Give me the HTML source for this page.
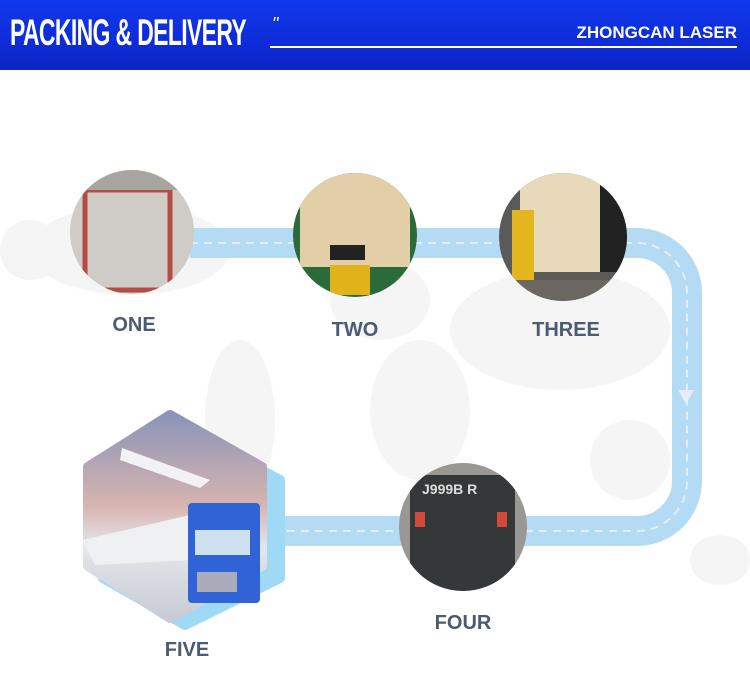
<!DOCTYPE html>
<html><head><meta charset="utf-8"><style>
body{margin:0;width:750px;height:695px;overflow:hidden;background:#fff;font-family:"Liberation Sans",sans-serif;position:relative}
.hdr{position:absolute;left:0;top:0;width:750px;height:70px;background:linear-gradient(#1038ee,#0c24c8)}
.t{position:absolute;left:10px;top:12px;color:#fff;font-size:37px;font-weight:bold;transform:scaleX(.62);transform-origin:left;white-space:nowrap;letter-spacing:-1px}
.lbl{position:absolute;color:#4b5b73;font-weight:bold;font-size:20px;transform:translateX(-50%)}
</style></head><body>
<div class="hdr">
<div class="t">PACKING &amp; DELIVERY</div>
<div style="position:absolute;left:272px;top:14px;color:#fff;font-size:18px;font-style:italic">"</div>
<div style="position:absolute;left:270px;top:46px;width:467px;height:2px;background:#fff"></div>
<div style="position:absolute;right:13px;top:23px;color:#fff;font-size:17px;font-weight:bold">ZHONGCAN LASER</div>
</div>
<svg width="750" height="695" style="position:absolute;left:0;top:0">
<g fill="#f5f5f5">
<ellipse cx="130" cy="250" rx="100" ry="45"/><ellipse cx="240" cy="420" rx="35" ry="80"/>
<ellipse cx="380" cy="300" rx="50" ry="40"/><ellipse cx="420" cy="410" rx="50" ry="70"/>
<ellipse cx="560" cy="330" rx="110" ry="60"/><ellipse cx="630" cy="460" rx="40" ry="40"/>
<ellipse cx="30" cy="250" rx="30" ry="30"/><ellipse cx="720" cy="560" rx="30" ry="25"/>
</g>
<path d="M190 243 H637 a50 50 0 0 1 50 50 V481 a50 50 0 0 1 -50 50 H270" fill="none" stroke="#b3dbf4" stroke-width="30"/>
<path d="M190 243 H637 a50 50 0 0 1 50 50 V481 a50 50 0 0 1 -50 50 H270" fill="none" stroke="#e4eef4" stroke-width="2" stroke-dasharray="8 6"/>
<polygon points="678,390 694,390 686,404" fill="#e4eef4"/>
<defs>
<clipPath id="c1"><circle cx="132" cy="232" r="62"/></clipPath>
<clipPath id="c2"><circle cx="355" cy="235" r="62"/></clipPath>
<clipPath id="c3"><circle cx="563" cy="237" r="64"/></clipPath>
<clipPath id="c4"><circle cx="463" cy="527" r="64"/></clipPath>
</defs>
<g clip-path="url(#c1)"><rect x="60" y="160" width="150" height="150" fill="#cfcbc6"/><rect x="85" y="190" width="85" height="100" fill="none" stroke="#b54b45" stroke-width="5"/><rect x="60" y="160" width="150" height="30" fill="#a8a49e"/></g>
<g clip-path="url(#c2)"><rect x="290" y="170" width="130" height="130" fill="#2b6b3a"/><rect x="300" y="172" width="110" height="95" fill="#e2cfa8"/><rect x="330" y="265" width="40" height="30" fill="#e2b21a"/><rect x="330" y="245" width="35" height="15" fill="#222"/></g>
<g clip-path="url(#c3)"><rect x="495" y="170" width="140" height="140" fill="#5a5a58"/><rect x="520" y="172" width="80" height="100" fill="#e8d9ba"/><rect x="600" y="172" width="30" height="100" fill="#222"/><rect x="512" y="210" width="22" height="75" fill="#e4b61e"/><rect x="495" y="280" width="140" height="30" fill="#6b6862"/></g>
<g clip-path="url(#c4)"><rect x="395" y="460" width="140" height="140" fill="#9a9894"/><rect x="410" y="475" width="105" height="120" fill="#353838"/><rect x="415" y="512" width="10" height="15" fill="#d4493a"/><rect x="497" y="512" width="10" height="15" fill="#d4493a"/><text x="422" y="494" fill="#ddd" font-size="14" font-weight="bold">J999B R</text></g>
<polygon points="185,430 280,480 280,578 185,625 103,578 103,480" fill="#9fd9f6" stroke="#9fd9f6" stroke-width="10" stroke-linejoin="round"/>
<defs><linearGradient id="sky" x1="0" y1="0" x2="0" y2="1"><stop offset="0" stop-color="#8b94b8"/><stop offset=".45" stop-color="#d8b5b0"/><stop offset=".65" stop-color="#e4e6ec"/><stop offset="1" stop-color="#c8ccd4"/></linearGradient></defs>
<polygon points="170,415 262,467 262,566 170,618 88,566 88,467" fill="url(#sky)" stroke="url(#sky)" stroke-width="10" stroke-linejoin="round"/>
<path d="M122 448 L210 480 L200 488 L120 460Z" fill="#f2f2f4"/>
<path d="M82 540 L190 515 L190 560 L95 565Z" fill="#eef0f2"/>
<rect x="188" y="503" width="72" height="100" rx="4" fill="#2f63d6"/>
<rect x="195" y="530" width="55" height="25" fill="#cfe0f0"/>
<rect x="197" y="572" width="40" height="20" fill="#aab"/>
</svg>
<div class="lbl" style="left:134px;top:314px">ONE</div>
<div class="lbl" style="left:355px;top:319px">TWO</div>
<div class="lbl" style="left:566px;top:319px">THREE</div>
<div class="lbl" style="left:463px;top:612px">FOUR</div>
<div class="lbl" style="left:187px;top:639px">FIVE</div>
</body></html>
